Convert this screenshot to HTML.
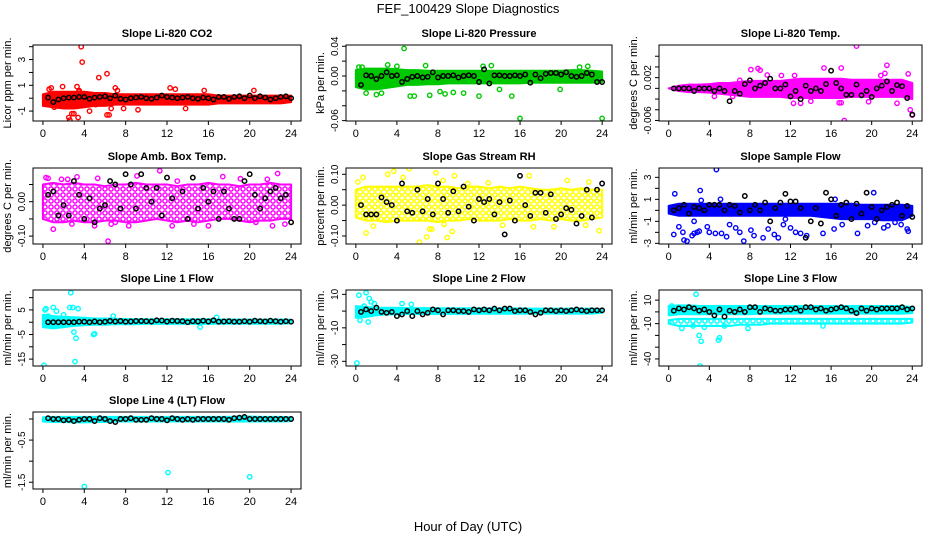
<!DOCTYPE html>
<html><head><meta charset="utf-8">
<style>
html,body{margin:0;padding:0;background:#fff;}
svg{display:block;font-family:"Liberation Sans",Arial,sans-serif;}
</style></head>
<body>
<svg id="chart" width="936" height="540" viewBox="0 0 936 540" xmlns="http://www.w3.org/2000/svg">
<defs>
<pattern id="pat-magenta" width="6" height="6" patternUnits="userSpaceOnUse"><rect width="6" height="6" fill="#fff"/><circle cx="3" cy="3" r="2.1" fill="none" stroke="#ff00ff" stroke-width="1.5"/></pattern>
<pattern id="pat-yellow" width="6" height="6" patternUnits="userSpaceOnUse"><rect width="6" height="6" fill="#fff"/><circle cx="3" cy="3" r="2.1" fill="none" stroke="#ffff00" stroke-width="1.6"/></pattern>
<pattern id="pat-cyan" width="6" height="6" patternUnits="userSpaceOnUse"><rect width="6" height="6" fill="#fff"/><circle cx="3" cy="3" r="2.1" fill="none" stroke="#00ffff" stroke-width="1.4"/></pattern>
</defs>
<text x="468" y="13" text-anchor="middle" font-size="13">FEF_100429  Slope Diagnostics</text>
<text x="468" y="531" text-anchor="middle" font-size="13">Hour of Day (UTC)</text>
</svg>
<script>
// ---- shared data ----
const xTicks = [0,4,8,12,16,20,24];
const bandHours = [0,1,2,3,4,5,6,7,8,9,10,11,12,13,14,15,16,17,18,19,20,21,22,23,24];
const blackHours = [0.5,1,1.5,2,2.5,3,3.5,4,4.5,5,5.5,6,6.5,7,7.5,8,8.5,9,9.5,10,10.5,11,11.5,12,12.5,13,13.5,14,14.5,15,15.5,16,16.5,17,17.5,18,18.5,19,19.5,20,20.5,21,21.5,22,22.5,23,23.5,24];

// CO2
const co2Lo = [-0.6,-0.7,-0.8,-0.8,-0.7,-0.6,-0.6,-0.5,-0.5,-0.5,-0.5,-0.5,-0.5,-0.5,-0.5,-0.5,-0.5,-0.4,-0.4,-0.4,-0.4,-0.4,-0.4,-0.4,-0.3];
const co2Hi = [0.3,0.5,0.5,0.5,0.5,0.4,0.4,0.3,0.3,0.3,0.3,0.3,0.3,0.3,0.3,0.3,0.3,0.2,0.2,0.2,0.2,0.2,0.2,0.2,0.2];
const co2OutX = [0.6,0.8,1.9,3.3,3.5,3.7,3.8,3.5,2.5,2.6,2.8,3.0,3.4,4.5,5.4,6.2,6.2,6.4,6.6,7.0,7.2,7.8,9.2,12.3,12.8,13.8,15.6,20.4,1.1,5.1];
const co2OutY = [0.7,0.8,0.9,0.9,0.6,4.0,2.8,0.5,-1.5,-1.7,-1.2,-1.2,-1.5,-1.0,1.6,1.9,-1.3,-1.3,-0.8,0.8,0.6,-0.8,-0.9,0.8,0.7,-0.8,0.6,0.6,-0.7,-0.5];
const co2Black = [0.05,-0.3,-0.1,0.0,0.05,0.05,0.1,0.1,-0.05,0.05,0.1,0.15,0.0,0.2,-0.05,-0.1,0.0,0.05,0.1,0.0,-0.05,0.05,0.2,0.1,0.05,0.0,0.05,0.1,0.0,-0.05,0.05,0.0,-0.1,0.1,0.1,-0.05,0.1,0.15,0.0,0.2,0.0,0.15,0.05,-0.1,0.0,0.1,0.15,0.0];

// Pressure
const pressLo = [-0.015,-0.018,-0.018,-0.016,-0.014,-0.012,-0.012,-0.011,-0.011,-0.010,-0.010,-0.010,-0.010,-0.010,-0.010,-0.010,-0.010,-0.009,-0.009,-0.009,-0.009,-0.009,-0.009,-0.009,-0.008];
const pressHi = [0.008,0.010,0.010,0.010,0.009,0.008,0.008,0.007,0.007,0.007,0.007,0.007,0.007,0.007,0.007,0.007,0.007,0.007,0.007,0.007,0.007,0.008,0.008,0.007,0.006];
const pressOutX = [4.7,15.2,16,24,5.3,5.7,7.2,0.3,1,2,2.5,3.1,6.8,8.2,8.7,9.5,10.5,12,12.4,13.2,14,19.9,21.8,22.6,0.6,4];
const pressOutY = [0.037,-0.027,-0.057,-0.057,-0.027,-0.027,-0.026,0.012,-0.023,-0.025,-0.023,0.015,0.014,-0.021,-0.024,-0.022,-0.023,-0.027,0.013,0.014,-0.018,-0.018,0.012,0.013,0.012,0.013];
const pressBlack = [-0.012,0.001,0.0,-0.004,0.0,0.005,0.0,0.001,-0.008,-0.004,-0.001,0.0,-0.002,-0.001,0.005,-0.002,0.0,0.0,0.001,-0.002,0.0,0.001,0.0,-0.008,0.009,-0.010,0.001,0.001,0.0,0.0,0.001,0.0,0.002,-0.009,0.002,-0.003,0.003,0.004,0.004,0.002,0.005,0.0,-0.001,0.0,0.004,0.002,-0.008,-0.008];

// Li-820 Temp
const tempLo = [0,-0.0005,-0.0007,-0.0007,-0.0008,-0.001,-0.0012,-0.0014,-0.0016,-0.0016,-0.0016,-0.0016,-0.0018,-0.0018,-0.0018,-0.0018,-0.0018,-0.0018,-0.0016,-0.0016,-0.0016,-0.0016,-0.0016,-0.0016,-0.002];
const tempHi = [0,0.0005,0.0007,0.0007,0.0008,0.001,0.001,0.0012,0.0014,0.0014,0.0014,0.0014,0.0016,0.0018,0.0018,0.0018,0.0018,0.0018,0.0016,0.0016,0.0016,0.0016,0.0016,0.0016,0.001];
const tempOutX = [8.1,8.8,9,9.7,11.1,12.4,15.3,17,17.3,18.5,21.5,21.3,23.6,24,12.3,13,14,17,23.8,22.5,4.5,6.3,16.8,7,20.9,19.7];
const tempOutY = [0.0035,0.0037,0.0034,0.0025,0.0024,0.0024,0.0038,0.0038,-0.006,0.0079,0.0043,0.0028,0.0027,-0.005,-0.0028,-0.0028,-0.0024,-0.0027,-0.004,-0.0028,-0.0015,-0.0015,-0.0027,0.0015,0.0024,-0.0025];
const tempBlack = [0,0,0,0,-0.0005,0,0,0,-0.0005,0,-0.0005,-0.0024,-0.0005,-0.001,0.0008,0.0015,0,0.0005,0.001,0.0018,0,0,0.0007,-0.0015,-0.0005,-0.002,0.0005,-0.0005,0,-0.0005,0.0008,0.0033,0.001,0,-0.0012,-0.0012,0.0007,-0.0013,-0.0005,-0.0016,0,0.0005,0.0013,-0.0005,0.0006,0.0004,-0.0018,-0.0049];

// Amb Box Temp
const ambLo = [-0.05,-0.06,-0.06,-0.055,-0.06,-0.06,-0.055,-0.055,-0.06,-0.06,-0.055,-0.05,-0.055,-0.06,-0.055,-0.06,-0.055,-0.05,-0.05,-0.055,-0.06,-0.055,-0.055,-0.05,-0.05];
const ambHi = [0.05,0.055,0.05,0.055,0.05,0.05,0.045,0.05,0.05,0.055,0.05,0.05,0.05,0.045,0.05,0.05,0.055,0.05,0.05,0.045,0.05,0.05,0.055,0.05,0.05];
const ambOutX = [1,6.3,11.3,22.7,9.1,17.4,0.3,3.3,5.3,1.8,21.7,2.8,5,7,12.5,16,22.2,23.4,13,0.5,6.6,19.1,14.6,8.3,2.4,20.6];
const ambOutY = [-0.08,-0.115,0.09,0.082,0.075,0.073,0.07,0.072,0.068,0.065,0.065,-0.065,-0.07,-0.06,-0.07,-0.07,-0.07,-0.065,0.06,0.068,-0.065,0.067,-0.065,-0.07,0.065,-0.06];
const ambBlack = [0.02,0.03,-0.04,-0.01,-0.04,0.06,0.02,-0.05,0.01,-0.06,-0.02,-0.01,0.06,0.05,-0.02,0.08,0.05,-0.02,0.08,0.04,0.0,0.04,-0.04,0.07,0.01,0.11,0.03,-0.05,0.07,-0.02,0.04,0.0,0.03,-0.05,0.03,-0.02,-0.05,-0.05,0.06,0.08,0.02,-0.02,0.01,0.03,0.04,0.01,0.02,-0.06];

// Gas Stream RH
const rhLo = [-0.04,-0.05,-0.05,-0.055,-0.05,-0.05,-0.05,-0.05,-0.055,-0.05,-0.05,-0.045,-0.05,-0.05,-0.05,-0.045,-0.05,-0.05,-0.045,-0.05,-0.045,-0.05,-0.05,-0.045,-0.04];
const rhHi = [0.05,0.06,0.06,0.06,0.06,0.06,0.06,0.065,0.06,0.06,0.055,0.06,0.06,0.055,0.06,0.055,0.06,0.055,0.05,0.05,0.055,0.05,0.055,0.05,0.05];
const rhOutX = [0.7,1,3.7,5.2,6.2,6.9,7.2,7.8,8.5,8.9,9.6,16.9,20.6,22.4,23.7,1.7,3.1,4.6,7.4,8.6,9.4,14.3,17.3,19.3,22.7,0.2,10.9,12.9];
const rhOutY = [0.09,-0.09,0.11,0.118,-0.12,-0.103,-0.077,0.105,0.08,-0.105,0.095,0.095,0.08,-0.065,-0.083,-0.068,0.1,0.09,-0.078,-0.062,-0.085,-0.065,-0.07,-0.07,0.075,0.075,0.07,0.072];
const rhBlack = [0.0,-0.03,-0.03,-0.03,0.025,0.01,0.0,-0.05,0.07,-0.02,-0.025,0.05,-0.02,0.02,-0.03,0.07,0.02,-0.025,0.045,-0.02,0.06,-0.005,-0.05,0.02,0.01,0.02,-0.03,0.01,-0.095,0.015,-0.05,0.095,0.0,-0.035,0.04,0.04,-0.025,0.035,-0.045,-0.03,-0.01,-0.015,-0.06,-0.035,0.05,-0.04,0.05,0.07];

// Sample Flow
const sampleLo = [-0.3,-0.5,-0.5,-0.5,-0.5,-0.5,-0.5,-0.5,-0.5,-0.5,-0.5,-0.5,-0.5,-0.5,-0.5,-0.6,-0.7,-0.8,-0.8,-0.8,-0.8,-0.9,-0.9,-0.9,-0.5];
const sampleHi = [0.4,0.6,0.6,0.6,0.6,0.6,0.6,0.6,0.6,0.6,0.6,0.6,0.6,0.6,0.6,0.6,0.6,0.6,0.6,0.5,0.5,0.5,0.5,0.5,0.4];
const sampleOutX = [4.7,3.1,0.6,5.1,3.2,20.2,16.4,1,0.5,1.4,1.5,1.8,2.3,2.5,2.8,3,3.8,4,4.6,5.2,5.7,6.6,7,7.4,8.1,8.4,9.3,9.8,10.4,10.8,11.3,12,12.5,13,13.6,15.2,16.3,17.1,18.6,19.6,20.3,21.2,22.3,23.5,2.5,6,11.5,21.6,22.9,23.6];
const sampleOutY = [3.7,1.8,1.5,1.0,0.9,1.6,1.0,-1.5,-2.2,-2.0,-2.7,-2.8,-2.3,-2.1,-2.0,-1.9,-1.5,-2.0,-2.1,-2.1,-2.4,-1.6,-2.0,-2.8,-1.8,-2.3,-2.5,-1.7,-2.2,-2.5,-1.3,-1.6,-2.0,-2.1,-2.3,-2.1,-1.7,-1.3,-2.1,-1.4,-1.1,-1.6,-1.1,-1.7,-1.0,-1.3,-0.8,-1.4,-1.3,-1.9];
const sampleBlack = [0.0,0.2,0.5,-0.3,0.3,0.2,0.0,0.5,0.5,0.5,0.0,0.5,0.4,-0.2,1.3,0.0,0.5,0.0,0.7,-1.0,0.2,0.7,1.5,0.8,0.8,0.2,-2.5,-1.0,0.2,-1.2,1.6,1.0,-0.5,0.5,0.7,-0.8,0.6,-0.3,1.6,0.3,-0.8,0.0,0.3,0.5,0.7,-0.5,0.4,-0.6];

// Line 1 Flow
const line1Lo = [-2,-2.5,-2,-1.5,-1.2,-1,-1,-0.8,-0.8,-0.8,-0.7,-0.7,-0.7,-0.7,-0.7,-0.7,-0.7,-0.6,-0.6,-0.6,-0.6,-0.6,-0.6,-0.6,-0.5];
const line1Hi = [3,2.5,2.2,2,1.8,1.5,1.5,1.4,1.3,1.2,1.2,1.2,1.2,1.2,1.2,1.2,1.2,1.1,1.1,1.1,1.1,1.1,1.1,1.1,1];
const line1OutX = [0.1,0.2,0.3,1,1.3,2.7,2.6,2.9,3.4,3,3.2,3.1,4.9,5,0.5,2,6.8,16.8,15.2];
const line1OutY = [-17.5,5,5.5,6,4.5,12,6,6,5.5,-4,-6.5,-16,-5,-4.7,2.5,3,2.5,2,-2];
const line1Black = [0,0,0,0,0,0,0.2,0.2,0,0.3,0,0.2,0.5,0.3,0.5,0.2,0.3,0.5,0.5,0.4,0.3,0.8,0.7,0.3,0.6,0.5,0.4,0.0,0.4,0.3,0.6,0.3,0.8,0.2,0.3,0.4,0.2,0.2,0.4,0.2,0.6,0.4,0.3,0.6,0.4,0.2,0.4,0.2];

// Line 2 Flow
const line2Lo = [-4,-3.5,-2.5,-2,-2,-1.8,-1.8,-1.8,-1.7,-1.7,-1.7,-1.7,-1.6,-1.6,-1.6,-1.6,-1.6,-1.5,-1.5,-1.5,-1.5,-1.5,-1.5,-1.5,-1];
const line2Hi = [3,2.5,2,2,2,1.8,1.8,1.8,1.7,1.7,1.7,1.7,1.6,1.6,1.6,1.6,1.6,1.5,1.5,1.5,1.5,1.5,1.5,1.5,1];
const line2OutX = [0.1,0.3,1,1.3,1.5,1.8,0.4,1.2,4.5,5.4,0.8];
const line2OutY = [-31,9.5,11,7.5,5.5,4.5,-5.5,-6.5,4.5,4,3];
const line2Black = [-0.5,1,0,2,-0.5,-1,-0.5,-3,-2,0,-3,0,-2,-1,1,0.5,-2,0.5,0.5,0,0,-0.5,1,0.5,1,0.5,1.5,0.5,1.5,1.5,0,0.5,0.5,-0.5,-2,-1,0.5,0.5,0,0.5,0,0.5,1,0.5,0,0.5,0.5,0.5];

// Line 3 Flow
const line3Lo = [-3,-2,-2,-2,-2,-2,-2,-2,-2,-1.5,-1.5,-1.5,-1.5,-1.5,-1.5,-1.5,-1.5,-1.5,-1.5,-1.5,-1.5,-1.5,-1.5,-1.5,-1];
const line3Hi = [5,5.5,5.5,5,5,5,5,5,5,5,5,5,5,5,5,5,5,5,5,5,5,5,5,5,4];
const line3Lo2 = [-10,-12,-12,-12,-12,-12,-12,-11,-11,-11,-10,-10,-10,-10,-10,-10,-10,-10,-10,-10,-10,-10,-10,-10,-9];
const line3Hi2 = [-7,-6,-6,-6,-6,-6,-6,-6,-6,-6,-6,-6,-6,-6,-6,-6,-6,-6,-6,-6,-6,-6,-6,-6,-6];
const line3OutX = [2.7,3,3.2,3.1,4.9,5,1.3,2.4,3.5,7.8,15.2,5.5,0.3];
const line3OutY = [15,-20,-25,-46,-24,-22,-14,-12,-13,-14,-12,-12,5];
const line3Black = [1,3,2,4,3,1,2,0,-3,2,-4,1,0,2,0,4,4,0,3,2,1,1,2,2,3,1,4,4,2,3,1,2,3,4,3,1,-1,3,1,3,2,3,3,3,3,4,2,3];

// Line 4 Flow
const line4Lo = [-0.06,-0.07,-0.07,-0.08,-0.08,-0.07,-0.07,-0.06,-0.06,-0.06,-0.06,-0.06,-0.06,-0.06,-0.06,-0.06,-0.06,-0.06,-0.06,-0.06,-0.06,-0.06,-0.06,-0.06,-0.05];
const line4Hi = [0.04,0.05,0.05,0.05,0.05,0.05,0.05,0.05,0.05,0.05,0.05,0.05,0.05,0.05,0.05,0.05,0.05,0.05,0.05,0.06,0.06,0.05,0.05,0.05,0.04];
const line4OutX = [4,12.1,20];
const line4OutY = [-1.6,-1.27,-1.37];
const line4Black = [0.02,0.0,0.0,-0.03,-0.02,-0.05,-0.02,0.0,0.0,-0.05,0.02,0.0,-0.05,-0.07,0.0,0.0,0.02,-0.02,-0.02,-0.02,0.02,0.0,0.0,-0.03,0.02,0.0,-0.02,0.0,-0.02,0.0,0.0,0.0,0.0,0.0,0.0,-0.02,0.02,0.03,0.05,0.0,0.0,0.0,0.0,0.0,0.0,0.0,0.0,0.0];

// y tick values / labels
const co2Ticks=[-1,0,1,2,3,4], co2TickLabels=['-1','','1','','3',''];
const pressTicks=[-0.06,-0.04,-0.02,0,0.02,0.04], pressTickLabels=['-0.06','','','0.00','','0.04'];
const tempTicks=[-0.006,-0.004,-0.002,0,0.002,0.004,0.006], tempTickLabels=['-0.006','','','','0.002','',''];
const ambTicks=[-0.10,-0.05,0,0.05], ambTickLabels=['-0.10','','0.00',''];
const rhTicks=[-0.10,-0.05,0,0.05,0.10], rhTickLabels=['-0.10','','0.00','','0.10'];
const sampleTicks=[-3,-2,-1,0,1,2,3], sampleTickLabels=['-3','','-1','','1','','3'];
const line1Ticks=[-15,-10,-5,0,5,10], line1TickLabels=['-15','','-5','','5',''];
const line2Ticks=[-30,-20,-10,0,10], line2TickLabels=['-30','','-10','','10'];
const line3Ticks=[-40,-30,-20,-10,0,10], line3TickLabels=['-40','','','-10','','10'];
const line4Ticks=[-1.5,-1,-0.5,0], line4TickLabels=['-1.5','','-0.5',''];

const NS='http://www.w3.org/2000/svg';
const svg=document.getElementById('chart');
function mk(tag,attrs,parent){const e=document.createElementNS(NS,tag);for(const k in attrs)e.setAttribute(k,attrs[k]);(parent||svg).appendChild(e);return e;}

const panels=[
 {key:'co2',title:'Slope Li-820 CO2',yt:'Licor ppm per min.',x0:33,x1:301,y0:45,y1:121,ylim:[-1.77,4.13],col:'#ff0000',fill:'#ff0000',lo:co2Lo,hi:co2Hi,ox:co2OutX,oy:co2OutY,bk:co2Black,tk:co2Ticks,tl:co2TickLabels},
 {key:'pressure',title:'Slope Li-820 Pressure',yt:'kPa per min.',x0:346,x1:612,y0:45,y1:121,ylim:[-0.0605,0.0417],col:'#00c800',fill:'#00c800',lo:pressLo,hi:pressHi,ox:pressOutX,oy:pressOutY,bk:pressBlack,tk:pressTicks,tl:pressTickLabels},
 {key:'li820-temp',title:'Slope Li-820 Temp.',yt:'degrees C per min.',x0:659,x1:922,y0:45,y1:121,ylim:[-0.0061,0.0081],col:'#ff00ff',fill:'#ff00ff',lo:tempLo,hi:tempHi,ox:tempOutX,oy:tempOutY,bk:tempBlack,tk:tempTicks,tl:tempTickLabels},
 {key:'amb-box-temp',title:'Slope Amb. Box Temp.',yt:'degrees C per min.',x0:33,x1:301,y0:168,y1:244,ylim:[-0.123,0.098],col:'#ff00ff',fill:'url(#pat-magenta)',lo:ambLo,hi:ambHi,ox:ambOutX,oy:ambOutY,bk:ambBlack,tk:ambTicks,tl:ambTickLabels},
 {key:'gas-stream-rh',title:'Slope Gas Stream RH',yt:'percent per min.',x0:346,x1:612,y0:168,y1:244,ylim:[-0.126,0.1204],col:'#ffff00',fill:'url(#pat-yellow)',lo:rhLo,hi:rhHi,ox:rhOutX,oy:rhOutY,bk:rhBlack,tk:rhTicks,tl:rhTickLabels},
 {key:'sample-flow',title:'Slope Sample Flow',yt:'ml/min per min.',x0:659,x1:922,y0:168,y1:244,ylim:[-3.06,3.85],col:'#0000ff',fill:'#0000ff',lo:sampleLo,hi:sampleHi,ox:sampleOutX,oy:sampleOutY,bk:sampleBlack,tk:sampleTicks,tl:sampleTickLabels},
 {key:'line1-flow',title:'Slope Line 1 Flow',yt:'ml/min per min.',x0:33,x1:301,y0:290,y1:366,ylim:[-17.8,13.1],col:'#00ffff',fill:'#00ffff',lo:line1Lo,hi:line1Hi,ox:line1OutX,oy:line1OutY,bk:line1Black,tk:line1Ticks,tl:line1TickLabels},
 {key:'line2-flow',title:'Slope Line 2 Flow',yt:'ml/min per min.',x0:346,x1:612,y0:290,y1:366,ylim:[-32.8,12.6],col:'#00ffff',fill:'#00ffff',lo:line2Lo,hi:line2Hi,ox:line2OutX,oy:line2OutY,bk:line2Black,tk:line2Ticks,tl:line2TickLabels},
 {key:'line3-flow',title:'Slope Line 3 Flow',yt:'ml/min per min.',x0:659,x1:922,y0:290,y1:366,ylim:[-46,18.6],col:'#00ffff',fill:'#00ffff',lo:line3Lo,hi:line3Hi,lo2:line3Lo2,hi2:line3Hi2,ox:line3OutX,oy:line3OutY,bk:line3Black,tk:line3Ticks,tl:line3TickLabels},
 {key:'line4-flow',title:'Slope Line 4 (LT) Flow',yt:'ml/min per min.',x0:33,x1:301,y0:412,y1:489,ylim:[-1.66,0.166],col:'#00ffff',fill:'#00ffff',lo:line4Lo,hi:line4Hi,ox:line4OutX,oy:line4OutY,bk:line4Black,tk:line4Ticks,tl:line4TickLabels}
];

panels.forEach(p=>{
 const g=mk('g',{});
 
 
 const xs=h=>p.x0+(h+0.96)/25.92*(p.x1-p.x0);
 const ys=v=>p.y1-(v-p.ylim[0])/(p.ylim[1]-p.ylim[0])*(p.y1-p.y0);
 const clipId='clip-'+p.key;
 const cp=mk('clipPath',{id:clipId},g);
 mk('rect',{x:p.x0,y:p.y0,width:p.x1-p.x0,height:p.y1-p.y0},cp);
 const plot=mk('g',{'clip-path':'url(#'+clipId+')'},g);
 function band(lo,hi,fill,name){
  let d='M'+bandHours.map((h,i)=>xs(h).toFixed(1)+','+ys(hi[i]).toFixed(1)).join('L');
  for(let i=bandHours.length-1;i>=0;i--) d+='L'+xs(bandHours[i]).toFixed(1)+','+ys(lo[i]).toFixed(1);
  d+='Z';
  const b=mk('path',{d:d,fill:fill,stroke:p.col,'stroke-width':2,'stroke-linejoin':'round'},plot);
  
  
 }
 if(p.lo2) band(p.lo2,p.hi2,'url(#pat-cyan)',p.key+'-lower-point-band');
 band(p.lo,p.hi,p.fill,p.key+'-point-band');
 p.ox.forEach((x,i)=>{
  const c=mk('circle',{cx:xs(x).toFixed(1),cy:ys(p.oy[i]).toFixed(1),r:2.2,fill:'none',stroke:p.col,'stroke-width':1.4},plot);
  
  
 });
 p.bk.forEach((v,i)=>{
  const c=mk('circle',{cx:xs(blackHours[i]).toFixed(1),cy:ys(v).toFixed(1),r:2.2,fill:'none',stroke:'#000','stroke-width':1.5},plot);
  
  
 });
 const box=mk('rect',{x:p.x0,y:p.y0,width:p.x1-p.x0,height:p.y1-p.y0,fill:'none',stroke:'#000','stroke-width':1},g);
 
 
 // x axis
 xTicks.forEach(t=>{
  mk('line',{x1:xs(t),x2:xs(t),y1:p.y1,y2:p.y1+4,stroke:'#000'},g);
  const tx=mk('text',{x:xs(t),y:p.y1+16,'text-anchor':'middle','font-size':11},g);
  tx.textContent=String(t);
  
  
 });
 // y axis
 p.tk.forEach((t,i)=>{
  const y=ys(t);
  mk('line',{x1:p.x0-4,x2:p.x0,y1:y,y2:y,stroke:'#000'},g);
  if(p.tl[i]){
   const lx=p.x0-8;
   const tx=mk('text',{x:lx,y:y,'text-anchor':'middle','font-size':10,transform:'rotate(-90 '+lx+' '+y+')'},g);
   tx.textContent=p.tl[i];
   
   
  }
 });
 const ym=(p.y0+p.y1)/2, yx=p.x0-22;
 const yt=mk('text',{x:yx,y:ym,'text-anchor':'middle','font-size':11,transform:'rotate(-90 '+yx+' '+ym+')'},g);
 yt.textContent=p.yt;
 
 
 const ti=mk('text',{x:(p.x0+p.x1)/2,y:p.y0-8,'text-anchor':'middle','font-size':11,'font-weight':'bold'},g);
 ti.textContent=p.title;
 
 
});
</script>
</body></html>
